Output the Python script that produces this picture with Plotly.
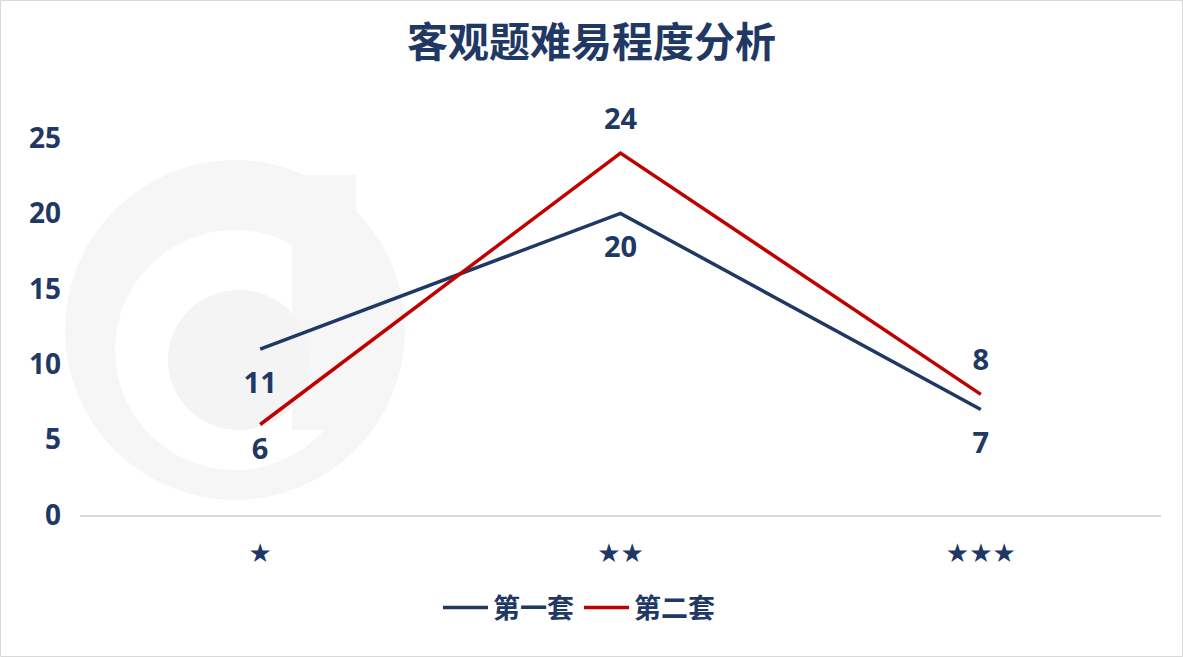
import plotly.graph_objects as go

categories = ["★", "★★", "★★★"]
set1_name = "第一套"
set2_name = "第二套"
set1_values = [11, 20, 7]
set2_values = [6, 24, 8]
set1_label_pos = ["bottom center", "bottom center", "bottom center"]
set2_label_pos = ["bottom center", "top center", "top center"]
title_text = "客观题难易程度分析"
y_ticks = [0, 5, 10, 15, 20, 25]

NAVY = "#1F3864"
RED = "#C00000"
FONT = "Open Sans, Noto Sans CJK SC, sans-serif"
CJK = "Noto Sans CJK SC, sans-serif"

# spacer sizes controlling the label distance from each point
set1_label_gap = [34, 34, 34]
set2_label_gap = [18, 26, 26]

W, H = 1183, 657
L, R, T, B = 80, 22, 138, 142
pw, ph = W - L - R, H - T - B

def px(x):
    return (x - L) / pw

def py(y):
    return (H - B - y) / ph

fig = go.Figure()

for name, vals, color in [(set1_name, set1_values, NAVY), (set2_name, set2_values, RED)]:
    fig.add_trace(go.Scatter(
        x=categories, y=vals, name=name, mode="lines",
        line=dict(color=color, width=3.5),
    ))

for vals, pos, gap in [(set1_values, set1_label_pos, set1_label_gap),
                       (set2_values, set2_label_pos, set2_label_gap)]:
    fig.add_trace(go.Scatter(
        x=categories, y=vals, mode="markers+text", showlegend=False, hoverinfo="skip",
        marker=dict(size=gap, opacity=0, line=dict(width=0)),
        text=[str(v) for v in vals], textposition=pos,
        textfont=dict(family=FONT, size=29, color=NAVY, weight="bold"),
        cliponaxis=False,
    ))

shapes = [
    # faint watermark logo
    dict(type="circle", xref="paper", yref="paper", layer="below",
         x0=px(65), x1=px(405), y0=py(500), y1=py(160),
         fillcolor="#f6f6f6", line=dict(width=0)),
    dict(type="circle", xref="paper", yref="paper", layer="below",
         x0=px(115), x1=px(355), y0=py(470), y1=py(230),
         fillcolor="#ffffff", line=dict(width=0)),
    dict(type="rect", xref="paper", yref="paper", layer="below",
         x0=px(292), x1=px(356), y0=py(430), y1=py(175),
         fillcolor="#f6f6f6", line=dict(width=0)),
    dict(type="circle", xref="paper", yref="paper", layer="below",
         x0=px(168), x1=px(310), y0=py(430), y1=py(290),
         fillcolor="#f4f4f4", line=dict(width=0)),
    # outer border
    dict(type="rect", xref="paper", yref="paper",
         x0=px(0.5), x1=px(W - 0.5), y0=py(H - 0.5), y1=py(0.5),
         line=dict(color="#D9D9D9", width=1), fillcolor="rgba(0,0,0,0)"),
]

fig.update_layout(
    width=W, height=H,
    margin=dict(l=L, r=R, t=T, b=B),
    paper_bgcolor="white", plot_bgcolor="rgba(0,0,0,0)",
    title=dict(text=title_text, x=0.5, xref="container", xanchor="center",
               y=1 - 43 / H, yref="container", yanchor="middle",
               font=dict(family=CJK, size=41, color=NAVY, weight="bold")),
    showlegend=True,
    legend=dict(orientation="h", x=px(579), xanchor="center", y=py(608), yanchor="middle",
                font=dict(family=CJK, size=27, color=NAVY, weight="bold"),
                itemwidth=45, tracegroupgap=0, bgcolor="rgba(0,0,0,0)"),
    shapes=shapes,
    xaxis=dict(type="category", range=[-0.5, 2.5], showgrid=False, showline=True,
               linecolor="#D9D9D9", linewidth=1.5,
               ticks="", tickfont=dict(family="DejaVu Sans", size=26, color=NAVY),
               ticklabelstandoff=14, zeroline=False, fixedrange=True),
    yaxis=dict(range=[0, 25], tickvals=y_ticks, showgrid=False, zeroline=False,
               showline=False, ticks="",
               tickfont=dict(family=FONT, size=28, color=NAVY, weight="bold"),
               ticklabelstandoff=18, fixedrange=True),
)

fig.write_html("out.html", config={"displayModeBar": False},
               post_script="document.body.style.margin='0';document.body.style.padding='0';")
